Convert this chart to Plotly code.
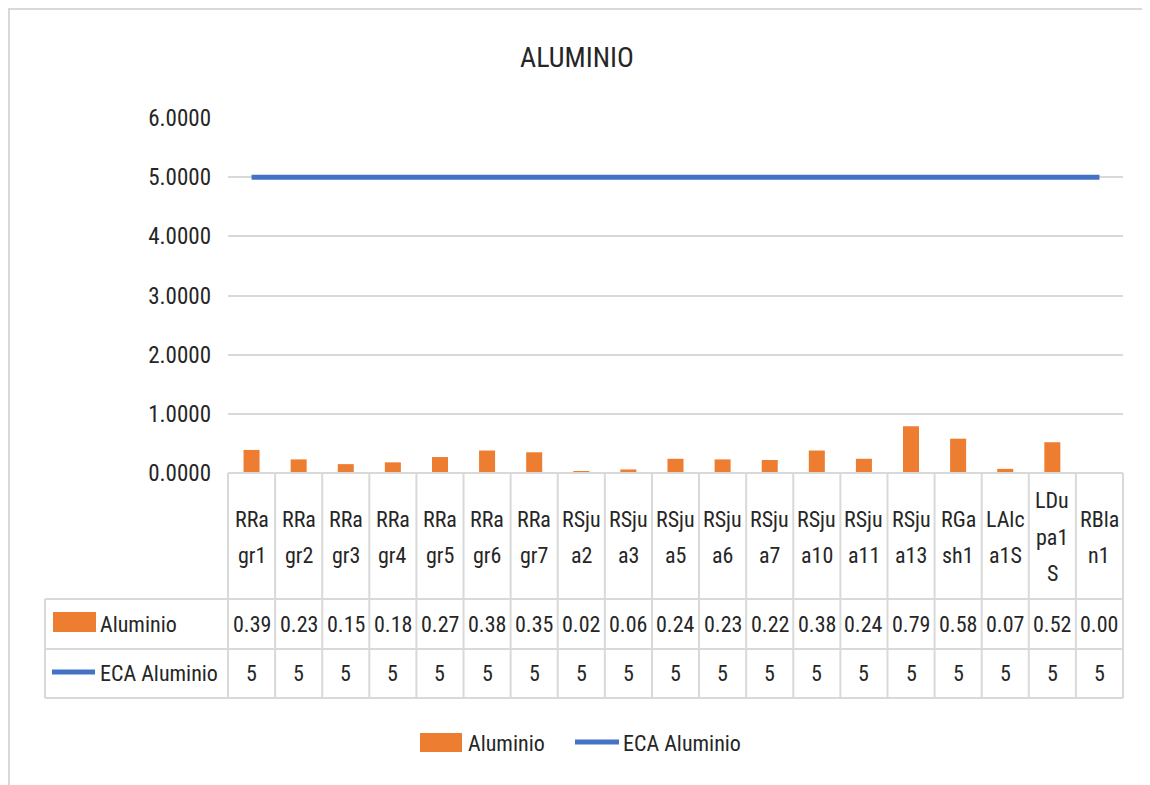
import plotly.graph_objects as go

# ---- data ----
categories = ["RRagr1", "RRagr2", "RRagr3", "RRagr4", "RRagr5", "RRagr6", "RRagr7",
              "RSjua2", "RSjua3", "RSjua5", "RSjua6", "RSjua7", "RSjua10", "RSjua11",
              "RSjua13", "RGash1", "LAlca1S", "LDupa1S", "RBlan1"]
category_labels = ["RRa<br>gr1", "RRa<br>gr2", "RRa<br>gr3", "RRa<br>gr4", "RRa<br>gr5",
                   "RRa<br>gr6", "RRa<br>gr7", "RSju<br>a2", "RSju<br>a3", "RSju<br>a5",
                   "RSju<br>a6", "RSju<br>a7", "RSju<br>a10", "RSju<br>a11", "RSju<br>a13",
                   "RGa<br>sh1", "LAlc<br>a1S", "LDu<br>pa1<br>S", "RBla<br>n1"]
aluminio = [0.39, 0.23, 0.15, 0.18, 0.27, 0.38, 0.35, 0.02, 0.06, 0.24, 0.23, 0.22,
            0.38, 0.24, 0.79, 0.58, 0.07, 0.52, 0.00]
eca_aluminio = [5, 5, 5, 5, 5, 5, 5, 5, 5, 5, 5, 5, 5, 5, 5, 5, 5, 5, 5]
y_ticks = [0, 1, 2, 3, 4, 5, 6]

series_names = ["Aluminio", "ECA Aluminio"]
title_text = "ALUMINIO"

# ---- styling ----
W, H = 1150, 785
OFF = 8  # page body margin
PX0, PX1, PY0, PY1 = 228, 1123, 118, 473  # plot area in page pixels
L, R = PX0 - OFF, OFF + W - PX1
T, B = PY0 - OFF, OFF + H - PY1
PW, PH = PX1 - PX0, PY1 - PY0
FONT = "Liberation Sans Narrow, Arial Narrow, Roboto Condensed, Roboto, sans-serif"
TXT = "#262626"
GRID = "#d9d9d9"
ORANGE = "#ED7D31"
BLUE = "#4472C4"
FS = 22
LINE_STEP = 36


def px_x(px):
    return (px - PX0) / PW


def px_y(py):
    return (PY1 - py) / PH


xidx = list(range(len(categories)))

fig = go.Figure()
fig.add_trace(go.Bar(x=xidx, y=aluminio, name=series_names[0], marker_color=ORANGE,
                     marker_line_width=0, showlegend=False))
fig.add_trace(go.Scatter(x=xidx, y=eca_aluminio, name=series_names[1], mode="lines",
                         line=dict(color=BLUE, width=5), showlegend=False))

shapes = []
annotations = []

# outer chart border
shapes.append(dict(type="rect", xref="paper", yref="paper", x0=px_x(9), x1=px_x(1148),
                   y0=px_y(820), y1=px_y(9), line=dict(color=GRID, width=2), layer="below"))

# table geometry (page pixels)
y_top, y_hdr, y_r1, y_r2 = 473, 599, 649, 698
x_lab = 45

for yy, x0 in [(y_top, PX0), (y_hdr, x_lab), (y_r1, x_lab), (y_r2, x_lab)]:
    shapes.append(dict(type="line", xref="paper", yref="paper", x0=px_x(x0), x1=1,
                       y0=px_y(yy), y1=px_y(yy), line=dict(color=GRID, width=2)))
for xx in [0, 1]:
    shapes.append(dict(type="line", xref="paper", yref="paper", x0=xx, x1=xx,
                       y0=px_y(y_top), y1=px_y(y_r2), line=dict(color=GRID, width=2)))
shapes.append(dict(type="line", xref="paper", yref="paper", x0=px_x(x_lab), x1=px_x(x_lab),
                   y0=px_y(y_hdr), y1=px_y(y_r2), line=dict(color=GRID, width=2)))
for i in range(1, len(categories)):
    shapes.append(dict(type="line", xref="x", yref="paper", x0=i - 0.5, x1=i - 0.5,
                       y0=px_y(y_top), y1=px_y(y_r2), line=dict(color=GRID, width=2)))

tfont = dict(size=FS, color=TXT, family=FONT)
for i in xidx:
    parts = category_labels[i].split("<br>")
    n = len(parts)
    for k, part in enumerate(parts):
        yc = 537 + (k - (n - 1) / 2) * LINE_STEP
        annotations.append(dict(x=i, y=px_y(yc), xref="x", yref="paper", text=part,
                                showarrow=False, font=tfont, yanchor="middle", xanchor="center"))
    annotations.append(dict(x=i, y=px_y(624), xref="x", yref="paper", text=f"{aluminio[i]:.2f}",
                            showarrow=False, font=tfont, yanchor="middle", xanchor="center"))
    annotations.append(dict(x=i, y=px_y(673), xref="x", yref="paper", text=f"{eca_aluminio[i]}",
                            showarrow=False, font=tfont, yanchor="middle", xanchor="center"))

# table row labels with keys
shapes.append(dict(type="rect", xref="paper", yref="paper", x0=px_x(53), x1=px_x(96),
                   y0=px_y(632), y1=px_y(612), fillcolor=ORANGE, line=dict(width=0)))
annotations.append(dict(x=px_x(98), y=px_y(624), xref="paper", yref="paper", text=series_names[0],
                        showarrow=False, xanchor="left", yanchor="middle", font=tfont))
shapes.append(dict(type="line", xref="paper", yref="paper", x0=px_x(52), x1=px_x(95),
                   y0=px_y(672), y1=px_y(672), line=dict(color=BLUE, width=5)))
annotations.append(dict(x=px_x(98), y=px_y(673), xref="paper", yref="paper", text=series_names[1],
                        showarrow=False, xanchor="left", yanchor="middle", font=tfont))

# bottom legend
shapes.append(dict(type="rect", xref="paper", yref="paper", x0=px_x(420), x1=px_x(462),
                   y0=px_y(752), y1=px_y(733), fillcolor=ORANGE, line=dict(width=0)))
annotations.append(dict(x=px_x(466), y=px_y(743), xref="paper", yref="paper", text=series_names[0],
                        showarrow=False, xanchor="left", yanchor="middle", font=tfont))
shapes.append(dict(type="line", xref="paper", yref="paper", x0=px_x(575), x1=px_x(619),
                   y0=px_y(742), y1=px_y(742), line=dict(color=BLUE, width=5)))
annotations.append(dict(x=px_x(621), y=px_y(743), xref="paper", yref="paper", text=series_names[1],
                        showarrow=False, xanchor="left", yanchor="middle", font=tfont))

fig.update_layout(
    width=W, height=H,
    margin=dict(l=L, r=R, t=T, b=B, pad=0),
    paper_bgcolor="white", plot_bgcolor="white",
    title=dict(text=title_text, x=(577 - OFF) / W, xanchor="center",
               y=(H - (57 - OFF)) / H, yanchor="middle",
               font=dict(size=28, color=TXT, family=FONT)),
    bargap=0.66,
    showlegend=False,
    shapes=shapes,
    annotations=annotations,
    xaxis=dict(range=[-0.5, len(categories) - 0.5], showticklabels=False, showgrid=False,
               zeroline=False, showline=False, ticks=""),
    yaxis=dict(range=[0, 6], tickvals=y_ticks, tickformat=".4f", showgrid=True,
               gridcolor=GRID, gridwidth=2, zeroline=False, showline=False, ticks="",
               ticklabelstandoff=16,
               tickfont=dict(size=23, color=TXT, family=FONT)),
)

fig.write_html("out.html")
